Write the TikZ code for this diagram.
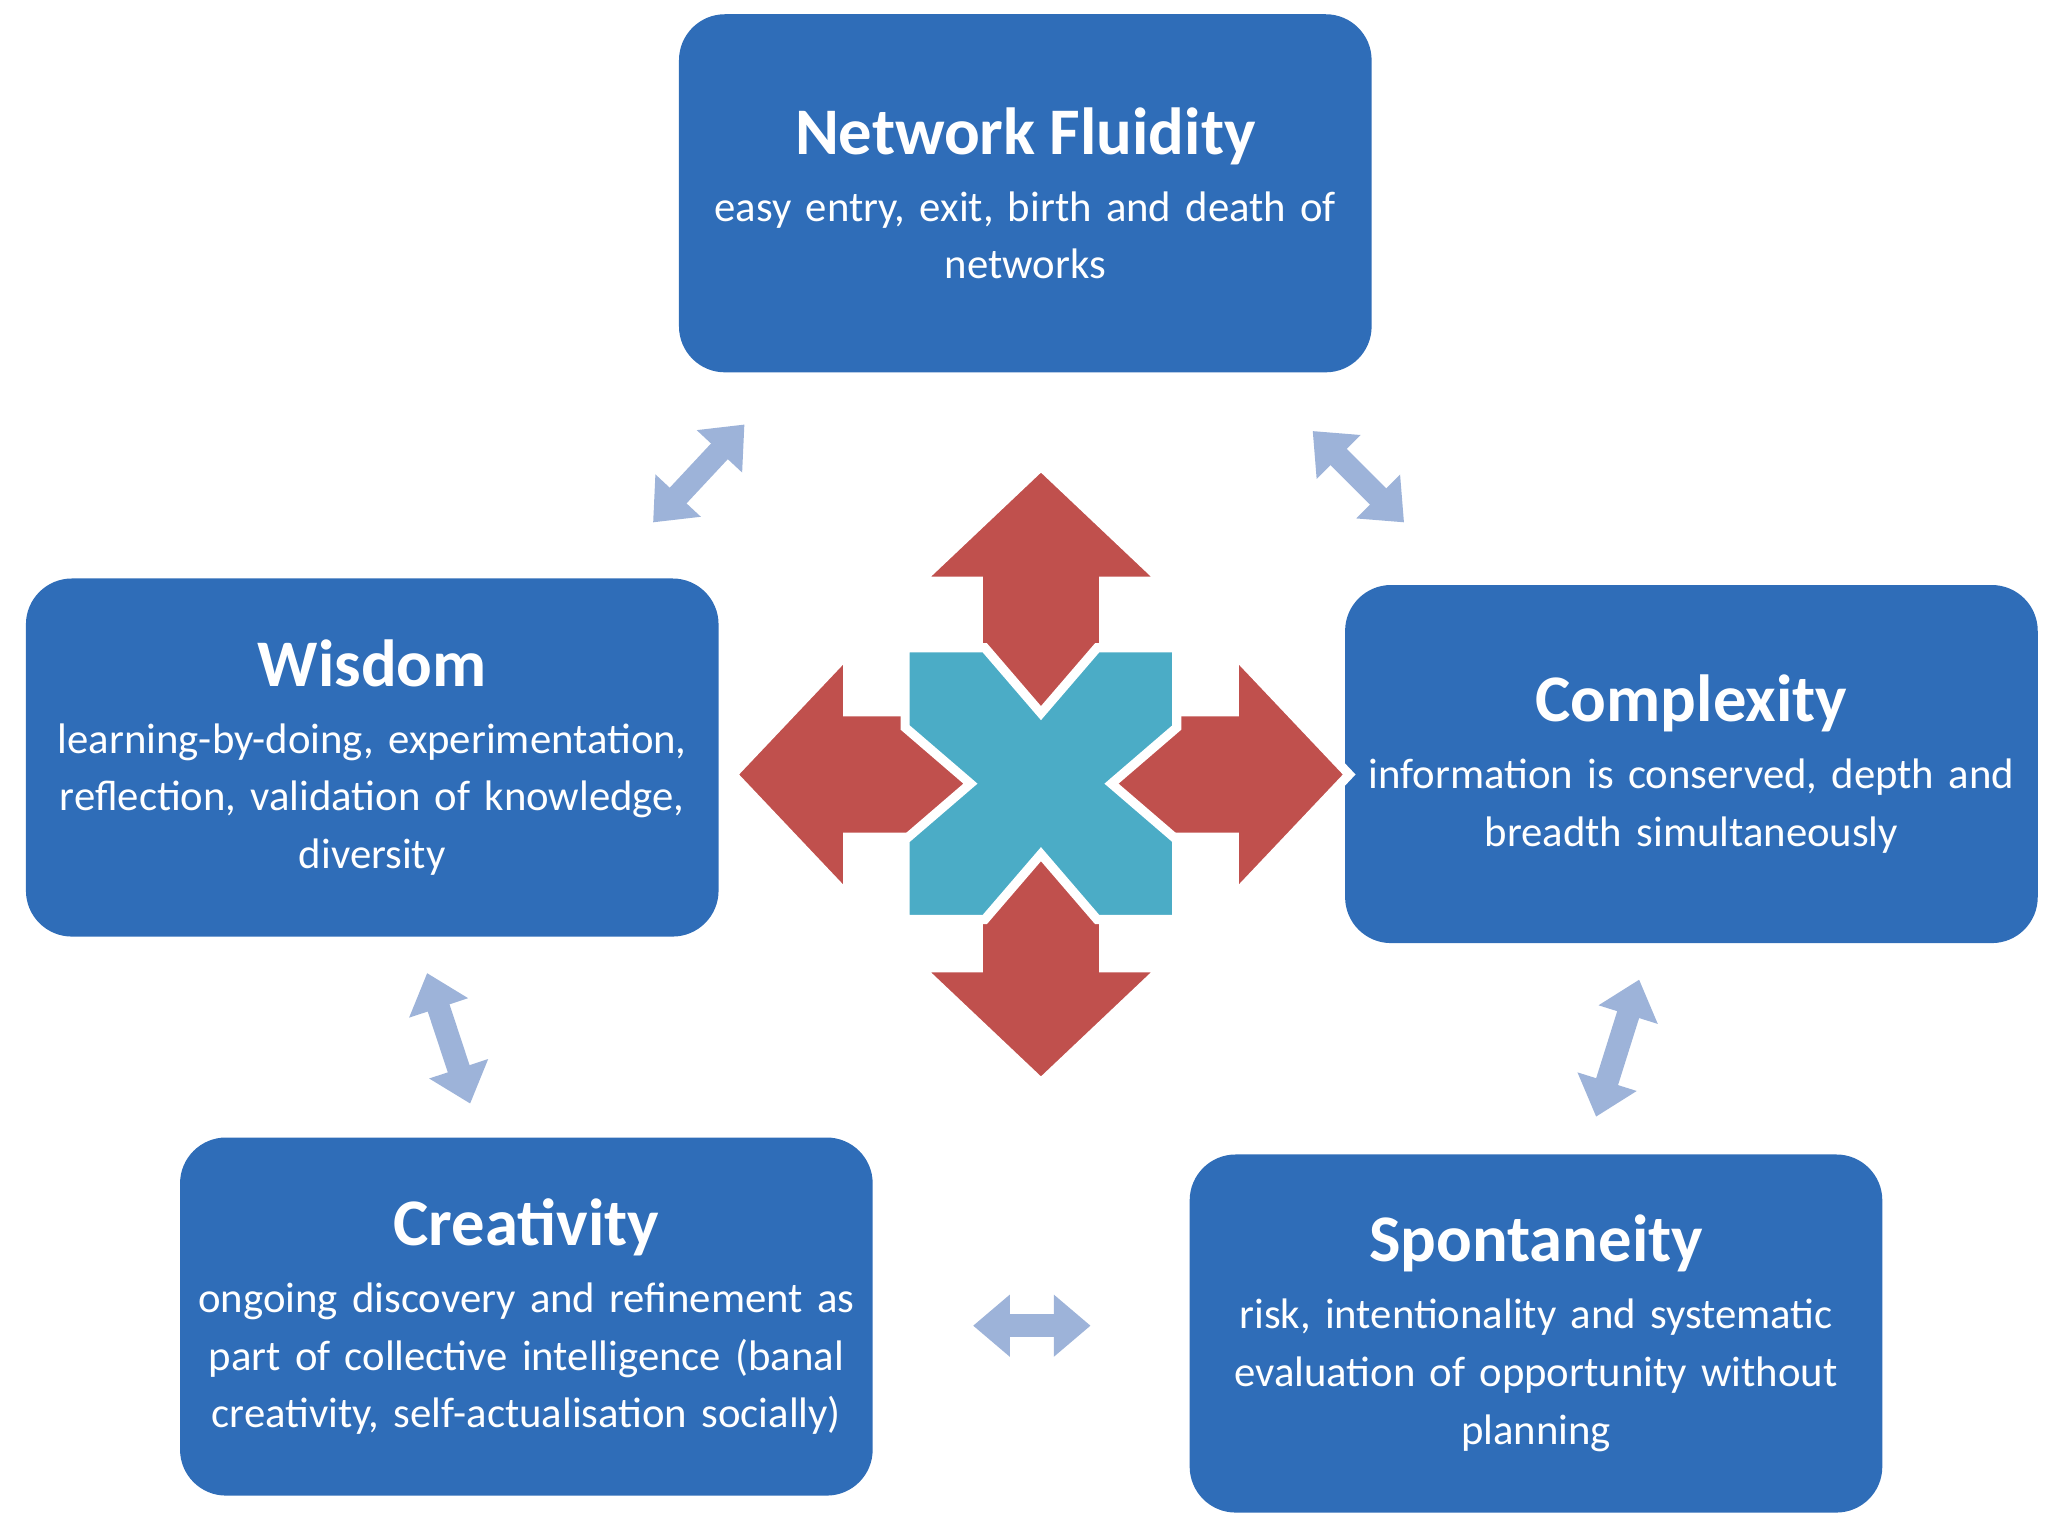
\documentclass[tikz,border=0pt]{standalone}
\usepackage{fontspec}
\setmainfont{Carlito}
\usetikzlibrary{arrows.meta}
\definecolor{boxblue}{HTML}{2F6DB8}
\definecolor{lite}{HTML}{9DB3D9}
\definecolor{redarr}{HTML}{C0504D}
\definecolor{teal}{HTML}{4BACC6}
\tikzset{
  box/.style={fill=boxblue,rounded corners=10pt,text=white,align=center,
    text width=5.1cm,minimum width=5.3cm,minimum height=2.74cm,inner sep=0pt,
    font=\fontsize{9.3pt}{12.6pt}\selectfont},
  link/.style={lite,line width=5pt,{Triangle[width=13pt,length=8pt]}-{Triangle[width=13pt,length=8pt]}}
}
\newcommand{\ttl}[1]{{\fontsize{14.5pt}{18pt}\selectfont\bfseries #1}\\[2pt]}
\begin{document}
\begin{tikzpicture}[x=0.01cm,y=-0.01cm]
  \useasboundingbox (0,0) rectangle (1568,1174);
  % kutije
  \node[box] (nf) at (785,148) {\ttl{Network Fluidity}easy entry, exit, birth and death of\\networks};
  \node[box] (wi) at (285,580) {\ttl{Wisdom}learning-by-doing, experimentation,\\reflection, validation of knowledge,\\diversity};
  \node[box] (co) at (1295,585) {\ttl{Complexity}information is conserved, depth and\\breadth simultaneously};
  \node[box] (cr) at (403,1008) {\ttl{Creativity}ongoing discovery and refinement as\\part of collective intelligence (banal\\creativity, self-actualisation socially)};
  \node[box] (sp) at (1176,1021) {\ttl{Spontaneity}risk, intentionality and systematic\\evaluation of opportunity without\\planning};

  % krajevi strelica
  \coordinate (a1) at (500,400); \coordinate (a2) at (570,325);
  \coordinate (b1) at (1005,330); \coordinate (b2) at (1075,400);
  \coordinate (c1) at (327,745); \coordinate (c2) at (360,845);
  \coordinate (d1) at (1255,750); \coordinate (d2) at (1222,855);
  \coordinate (e1) at (745,1015); \coordinate (e2) at (835,1015);
  \foreach \s/\t in {a1/a2,b1/b2,c1/c2,d1/d2,e1/e2}
    \draw[link] (\s) -- (\t);

  % sredisnja crvena strelica
  \begin{scope}[shift={(797,593)}]
    \fill[redarr,draw=white,line width=2pt,line join=miter]
      (48,-48) -- (48,-148) -- (93,-148) -- (0,-236) -- (-93,-148) -- (-48,-148)
      -- (-48,-48) -- (-148,-48) -- (-148,-93) -- (-236,0) -- (-148,93) -- (-148,48)
      -- (-48,48) -- (-48,148) -- (-93,148) -- (0,236) -- (93,148) -- (48,148)
      -- (48,48) -- (148,48) -- (148,93) -- (236,0) -- (148,-93) -- (148,-48) -- cycle;
  \end{scope}
  % plavi krst
  \begin{scope}[shift={(797,600)}]
    \fill[teal,draw=white,line width=2pt]
      (-104,-104) -- (-43,-104) -- (0,-54) -- (43,-104) -- (104,-104) -- (104,-43)
      -- (54,0) -- (104,43) -- (104,104) -- (43,104) -- (0,54) -- (-43,104)
      -- (-104,104) -- (-104,43) -- (-54,0) -- (-104,-43) -- cycle;
  \end{scope}
\end{tikzpicture}
\end{document}
